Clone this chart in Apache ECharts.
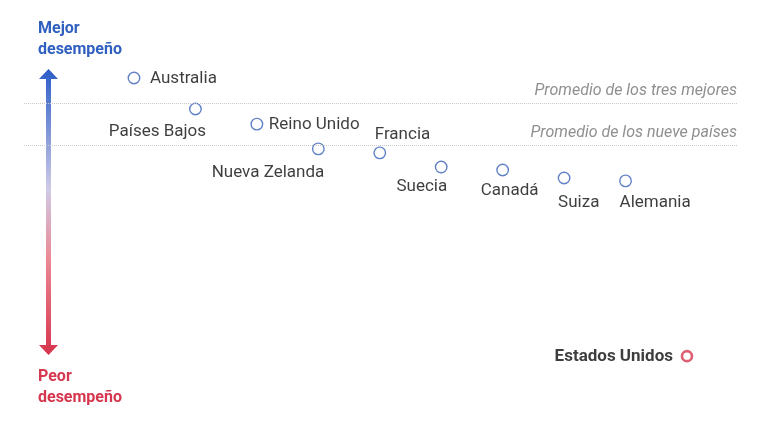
<!DOCTYPE html>
<html>
<head>
<meta charset="utf-8">
<script src="https://cdn.jsdelivr.net/npm/echarts@6/dist/echarts.min.js"></script>
<style>html,body{margin:0;padding:0;background:#fff}#c{width:768px;height:432px}</style>
</head>
<body>
<div id="c"></div>
<script>
var countries = ['Australia','Países Bajos','Reino Unido','Nueva Zelanda','Francia','Suecia','Canadá','Suiza','Alemania','Estados Unidos'];
var scores = [88.8, 79.4, 74.8, 67.3, 66.1, 61.8, 60.9, 58.5, 57.6, 4.5];
var refNames = ['Promedio de los tres mejores', 'Promedio de los nueve países'];
var refValues = [81.2, 68.5];
var highlight = 'Estados Unidos';

var labelLayout = {
  'Australia': {align:'left', offset:[16,0.5]},
  'Países Bajos': {align:'center', offset:[-38,22.5]},
  'Reino Unido': {align:'left', offset:[12,0.5]},
  'Nueva Zelanda': {align:'right', offset:[6,23.5]},
  'Francia': {align:'left', offset:[-5,-18.5]},
  'Suecia': {align:'right', offset:[6,19.5]},
  'Canadá': {align:'center', offset:[7,20.5]},
  'Suiza': {align:'left', offset:[-6,24.5]},
  'Alemania': {align:'left', offset:[-6,21.5]},
  'Estados Unidos': {align:'right', offset:[-14,0.5]}
};

var FONT = 'Roboto, "Noto Sans", sans-serif';
var data = countries.map(function(name, i){
  var hl = name === highlight;
  var lay = labelLayout[name];
  return {
    name: name,
    value: [i, scores[i]],
    symbolSize: hl ? 10 : 11.5,
    itemStyle: hl ? {color:'#fff', borderColor:'#d6374e', borderWidth:2.6} : {color:'#fff', borderColor:'#3a62b8', borderWidth:1.4},
    label: {
      show: true, position: 'inside', align: lay.align, verticalAlign: 'middle',
      offset: lay.offset, formatter: name,
      color: '#0d0d0d', fontSize: 17, fontWeight: hl ? 'bold' : 'normal', fontFamily: FONT
    }
  };
});

var chart = echarts.init(document.getElementById('c'), null, {renderer:'canvas'});
chart.setOption({
  animation: false,
  grid: {left: 24, right: 31, top: 41, bottom: 61},
  xAxis: {type:'value', min:-1.79, max:9.814, show:false},
  yAxis: {type:'value', min:0, max:100, show:false},
  series: [{
    type: 'scatter',
    symbol: 'circle',
    data: data,
    z: 3,
    markLine: {
      silent: true,
      symbol: ['none','none'],
      lineStyle: {type:'dotted', color:'#c8c8c8', width:1},
      label: {position:'insideEndTop', color:'#8f8f8f', fontStyle:'italic', fontSize:16, fontFamily:FONT, distance:[0,4]},
      data: refNames.map(function(n,i){ return {yAxis: refValues[i], label:{formatter:n}}; })
    }
  }],
  graphic: [
    {
      type: 'polygon',
      shape: {points: [[48.5,69],[58,79],[51,79],[51,345],[58,345],[48.5,355],[39,345],[46,345],[46,79],[39,79]]},
      style: {fill: new echarts.graphic.LinearGradient(0,0,0,1,[
        {offset:0, color:'#2a5cc6'},
        {offset:0.42, color:'#cfcbe6'},
        {offset:0.66, color:'#ea8a95'},
        {offset:1, color:'#d6344c'}
      ])}
    },
    {type:'text', left:38, top:18.5, style:{text:'Mejor\ndesempeño', fill:'#2f5fbf', font:'bold 16px '+FONT, lineHeight:21}},
    {type:'text', left:38, top:366.5, style:{text:'Peor\ndesempeño', fill:'#d6374e', font:'bold 16px '+FONT, lineHeight:21}}
  ]
});
</script>
</body>
</html>
